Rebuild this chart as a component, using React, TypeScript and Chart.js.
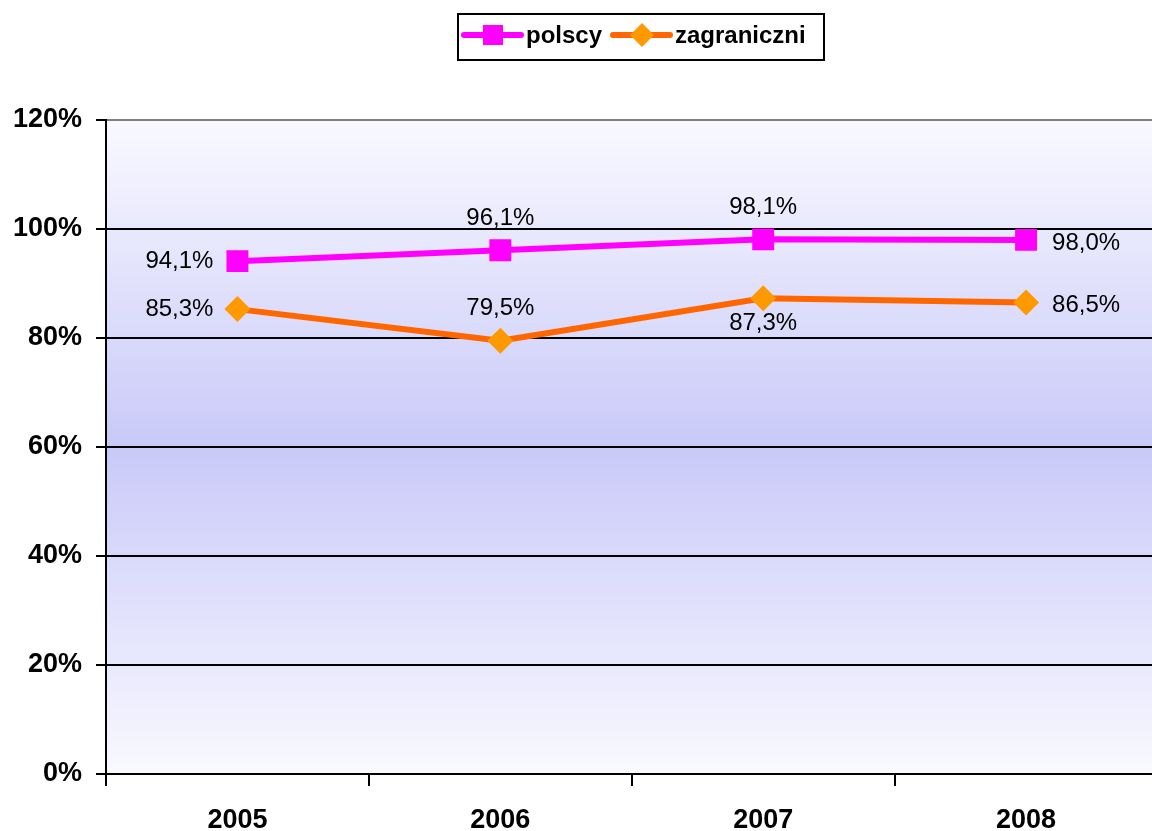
import React, { useEffect, useRef } from "react";
import { Chart, registerables } from "chart.js";

Chart.register(...registerables);

const categories = ["2005", "2006", "2007", "2008"];
const polscy = [94.1, 96.1, 98.1, 98.0];
const zagraniczni = [85.3, 79.5, 87.3, 86.5];
const polscyLabels = ["94,1%", "96,1%", "98,1%", "98,0%"];
const zagraniczniLabels = ["85,3%", "79,5%", "87,3%", "86,5%"];
const polscyPlacement = ["left", "above", "above", "right"];
const zagraniczniPlacement = ["left", "above", "below", "right"];
const yTicks = [0, 20, 40, 60, 80, 100, 120];

const FONT = "'Liberation Sans', Arial, sans-serif";

const bgPlugin = {
  id: "bgGradient",
  beforeDraw(chart: any) {
    const { ctx, chartArea } = chart;
    if (!chartArea) return;
    const g = ctx.createLinearGradient(0, chartArea.top, 0, chartArea.bottom);
    g.addColorStop(0, "#f9f9ff");
    g.addColorStop(0.5, "#c9c9f9");
    g.addColorStop(1, "#f9f9ff");
    ctx.save();
    ctx.fillStyle = g;
    ctx.fillRect(chartArea.left, chartArea.top, chartArea.right - chartArea.left, chartArea.bottom - chartArea.top);
    ctx.restore();
  },
};

const labelPlugin = {
  id: "valueLabels",
  afterDatasetsDraw(chart: any) {
    const { ctx } = chart;
    const sets = [
      { labels: polscyLabels, place: polscyPlacement },
      { labels: zagraniczniLabels, place: zagraniczniPlacement },
    ];
    ctx.save();
    ctx.font = `24px ${FONT}`;
    ctx.fillStyle = "#000";
    sets.forEach((s, di) => {
      const meta = chart.getDatasetMeta(di);
      meta.data.forEach((pt: any, i: number) => {
        const p = s.place[i];
        let x = pt.x;
        let y = pt.y;
        ctx.textBaseline = "middle";
        if (p === "left") {
          ctx.textAlign = "right";
          x -= 24;
        } else if (p === "right") {
          ctx.textAlign = "left";
          x += 26;
          y += 3;
        } else if (p === "above") {
          ctx.textAlign = "center";
          y -= 32;
        } else {
          ctx.textAlign = "center";
          y += 25;
        }
        ctx.fillText(s.labels[i], x, y);
      });
    });
    ctx.restore();
  },
};

const legendPlugin = {
  id: "customLegend",
  afterDraw(chart: any) {
    const { ctx } = chart;
    const ds = chart.data.datasets;
    ctx.save();
    ctx.strokeStyle = "#000";
    ctx.lineWidth = 2;
    ctx.strokeRect(458, 14, 366, 46);
    ctx.font = `bold 24px ${FONT}`;
    ctx.textBaseline = "middle";
    ctx.textAlign = "left";
    const items = [
      { x0: 464, x1: 521, mx: 493, tx: 526, shape: "rect" },
      { x0: 613, x1: 670, mx: 642, tx: 675, shape: "diamond" },
    ];
    const cy = 35;
    items.forEach((it, i) => {
      const d = ds[i];
      ctx.strokeStyle = d.borderColor;
      ctx.lineWidth = 6;
      ctx.lineCap = "round";
      ctx.beginPath();
      ctx.moveTo(it.x0, cy);
      ctx.lineTo(it.x1, cy);
      ctx.stroke();
      ctx.fillStyle = d.pointBackgroundColor;
      if (it.shape === "rect") {
        ctx.fillRect(it.mx - 10, cy - 10, 20, 20);
      } else {
        ctx.beginPath();
        ctx.moveTo(it.mx, cy - 12);
        ctx.lineTo(it.mx + 12, cy);
        ctx.lineTo(it.mx, cy + 12);
        ctx.lineTo(it.mx - 12, cy);
        ctx.closePath();
        ctx.fill();
      }
      ctx.fillStyle = "#000";
      ctx.fillText(d.label, it.tx, cy + 1);
    });
    ctx.restore();
  },
};

export default function App() {
  const ref = useRef<HTMLCanvasElement | null>(null);
  useEffect(() => {
    if (!ref.current) return;
    const chart = new Chart(ref.current, {
      type: "line",
      data: {
        labels: categories,
        datasets: [
          {
            label: "polscy",
            data: polscy,
            borderColor: "#ff00ff",
            backgroundColor: "#ff00ff",
            pointBackgroundColor: "#ff00ff",
            pointBorderColor: "#ff00ff",
            borderWidth: 6,
            pointStyle: "rect",
            pointRadius: 15.5,
            pointBorderWidth: 0,
            tension: 0,
          },
          {
            label: "zagraniczni",
            data: zagraniczni,
            borderColor: "#ff6600",
            backgroundColor: "#ff9900",
            pointBackgroundColor: "#ff9900",
            pointBorderColor: "#ff9900",
            borderWidth: 6,
            pointStyle: "rectRot",
            pointRadius: 13,
            pointBorderWidth: 0,
            tension: 0,
          },
        ],
      },
      options: {
        animation: false,
        responsive: false,
        layout: { padding: { top: 120, left: 0, right: 0, bottom: 0 } },
        plugins: {
          legend: { display: false },
          tooltip: { enabled: false },
        },
        scales: {
          x: {
            offset: true,
            grid: {
              offset: true,
              drawOnChartArea: false,
              drawTicks: true,
              tickLength: 12,
              color: "#000",
              lineWidth: 2,
            },
            border: { display: true, color: "#000", width: 2 },
            ticks: {
              color: "#000",
              font: { family: FONT, size: 27, weight: "bold" },
              padding: 18,
            },
            afterFit(scale: any) {
              scale.height = 57;
            },
          },
          y: {
            min: 0,
            max: 120,
            afterBuildTicks(scale: any) {
              scale.ticks = yTicks.map((v) => ({ value: v }));
            },
            grid: {
              color: (c: any) => (c.tick && c.tick.value === 120 ? "#808080" : "#000"),
              tickColor: "#000",
              lineWidth: 2,
              tickLength: 10,
            },
            border: { display: true, color: "#000", width: 2 },
            ticks: {
              color: "#000",
              font: { family: FONT, size: 27, weight: "bold" },
              padding: 14,
              callback: (v: any) => `${v}%`,
            },
            afterFit(scale: any) {
              scale.width = 106;
            },
          },
        },
      },
      plugins: [bgPlugin, labelPlugin, legendPlugin],
    });
    return () => chart.destroy();
  }, []);
  return (
    <div style={{ position: "absolute", left: 0, top: 0, width: 1152, height: 831, overflow: "hidden", background: "#fff" }}>
      <canvas ref={ref} width={1173} height={831} style={{ display: "block", width: 1173, height: 831 }} />
    </div>
  );
}
